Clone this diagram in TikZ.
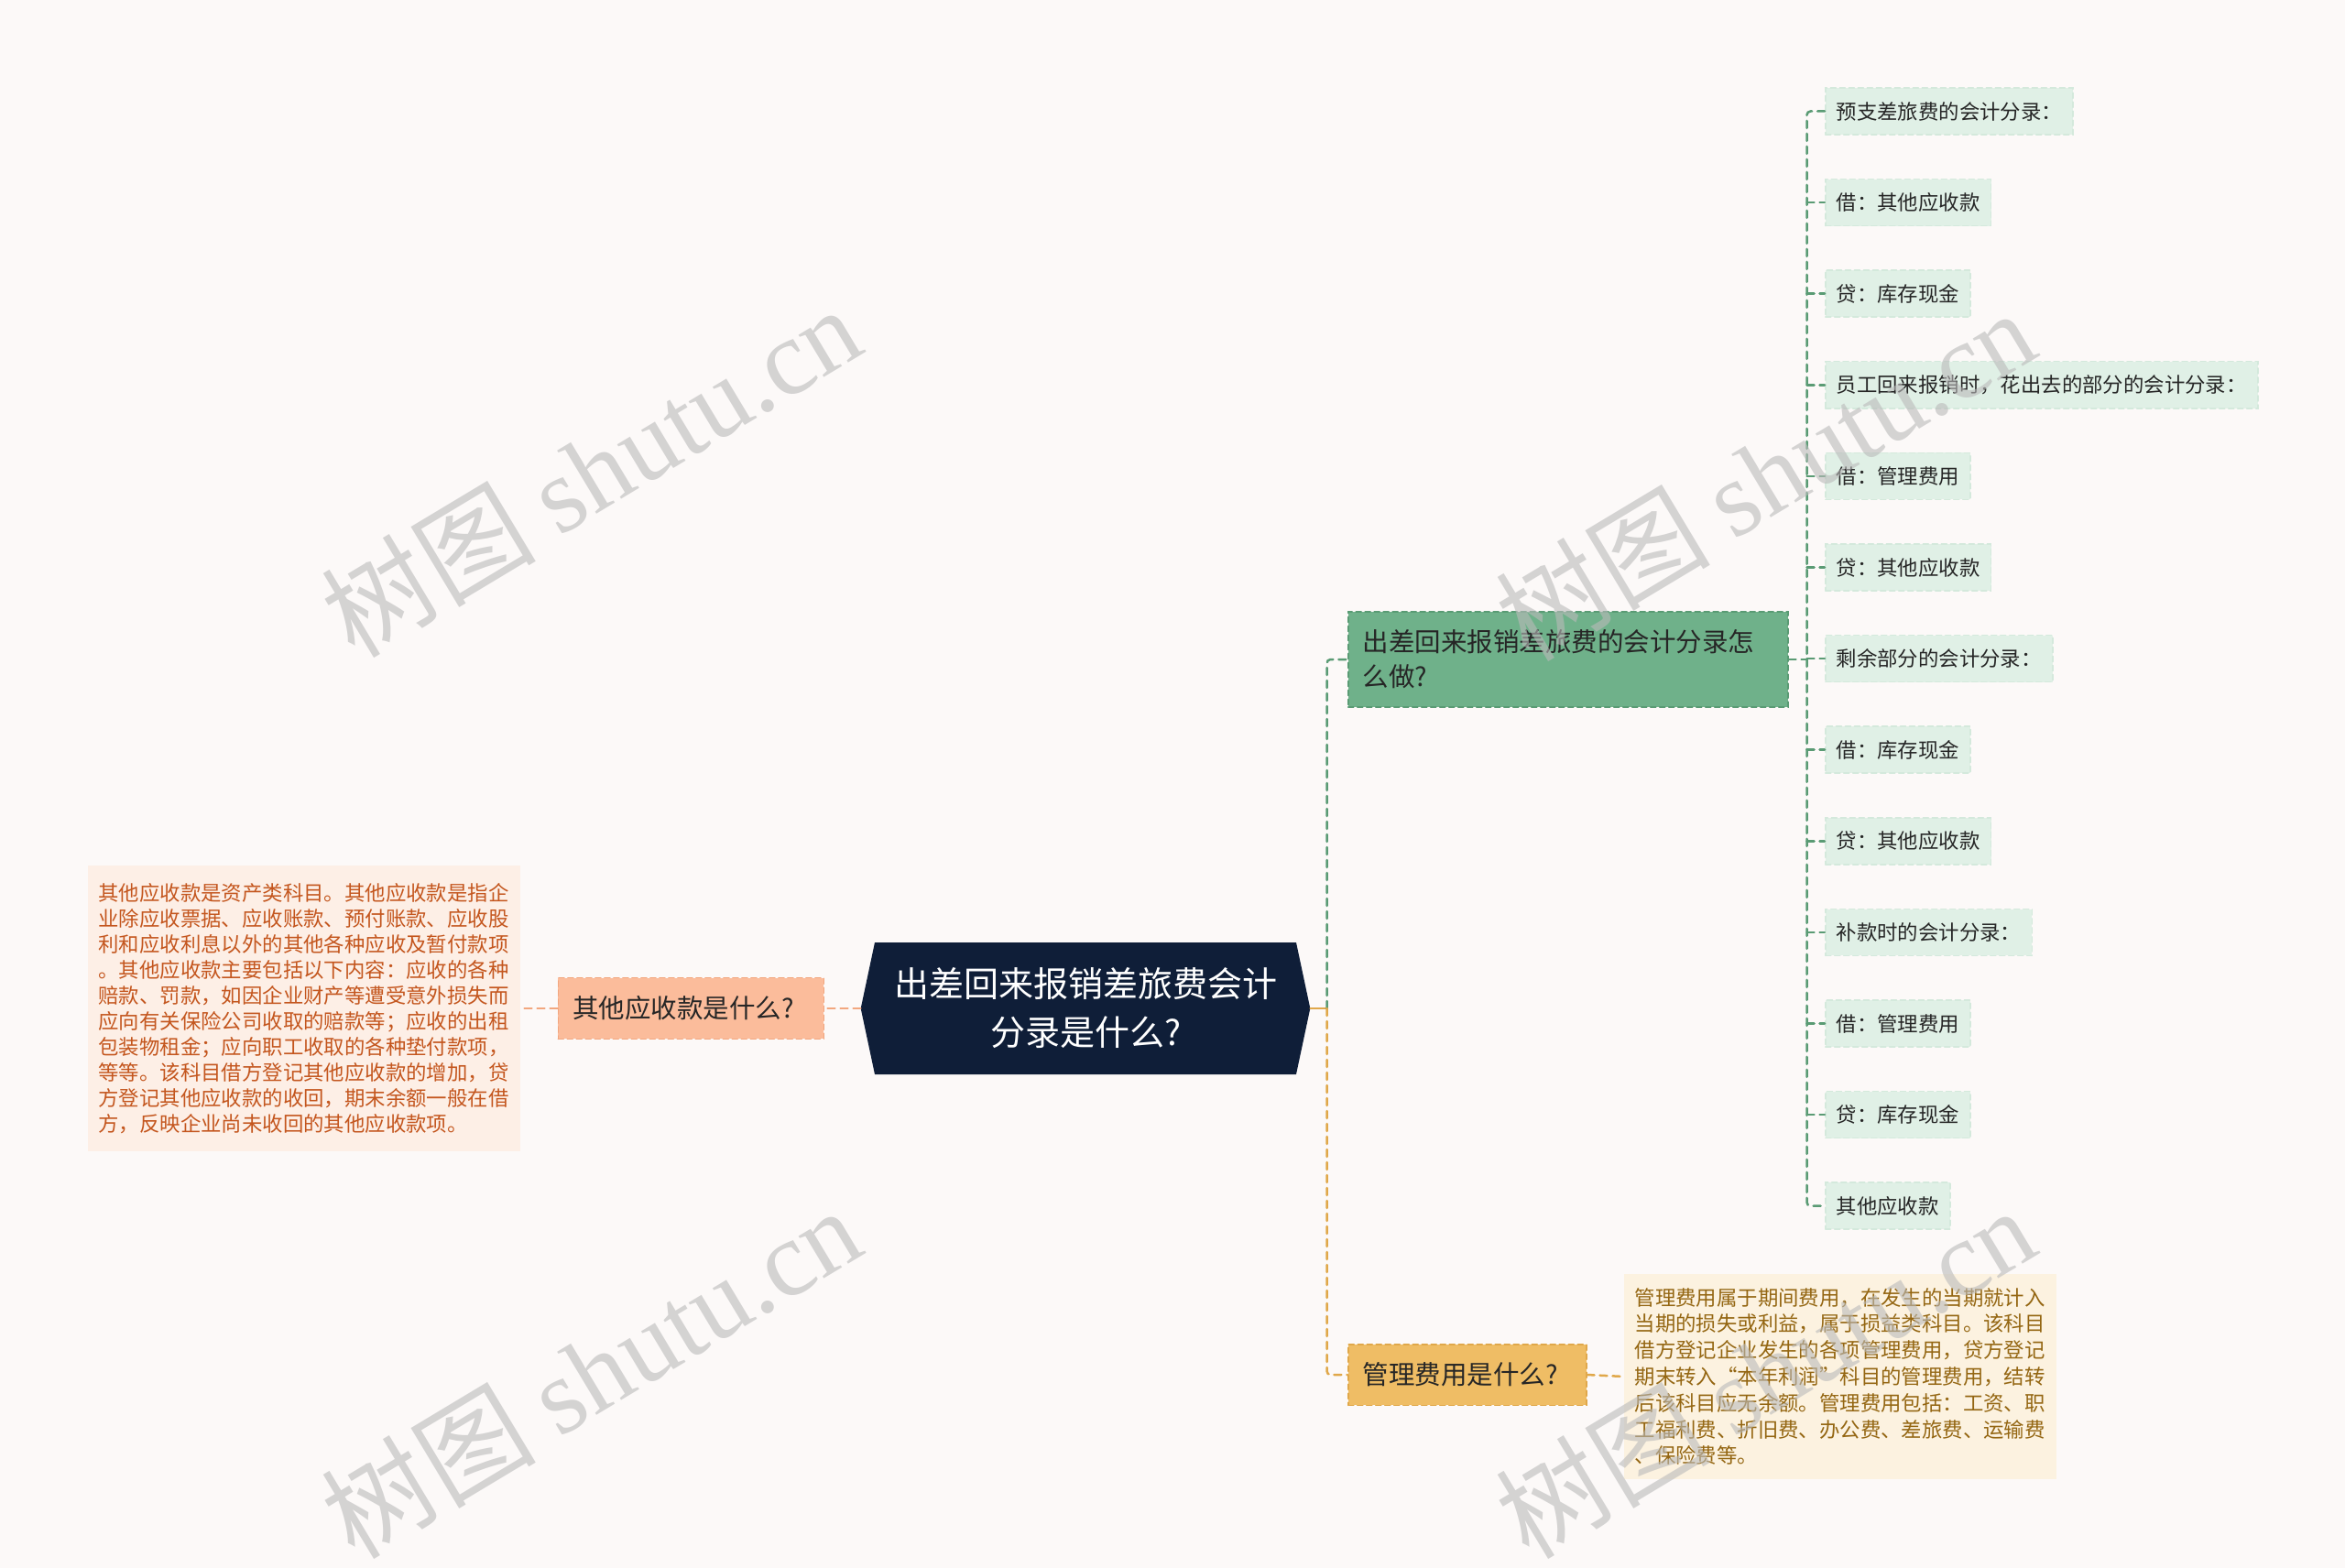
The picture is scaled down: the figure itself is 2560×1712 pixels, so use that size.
\documentclass[tikz,border=0pt]{standalone}
\usepackage{fontspec}
\setmainfont{Noto Sans CJK SC}
\newfontfamily\wmfont{Liberation Serif}
\usepackage{tikz}
\usetikzlibrary{shapes.symbols, positioning, calc}

\definecolor{bgcol}{HTML}{FCF9F8}
\definecolor{navy}{HTML}{0F1E38}
\definecolor{gfill}{HTML}{6FB18A}
\definecolor{gedge}{HTML}{5A9B74}
\definecolor{leaffill}{HTML}{E0F0E6}
\definecolor{leafedge}{HTML}{D4E9DC}
\definecolor{ofill}{HTML}{FBBC9B}
\definecolor{oedge}{HTML}{F2A77F}
\definecolor{otext}{HTML}{C4561E}
\definecolor{odfill}{HTML}{FDEFE6}
\definecolor{yfill}{HTML}{EFBD65}
\definecolor{yedge}{HTML}{E0A84A}
\definecolor{ytext}{HTML}{946612}
\definecolor{ydfill}{HTML}{FCF2E0}

\begin{document}
\begin{tikzpicture}[x=1pt,y=-1pt,cap=round,
    root/.style={signal, signal to=west and east, signal pointer angle=156,
      fill=navy, text=white, minimum height=144, text width=418, align=center,
      inner xsep=21, font=\fontsize{38}{53}\selectfont},
    topic/.style 2 args={anchor=west, fill=#1, draw=#2, dash pattern=on 6pt off 4pt,
      line width=1.5pt, text=black!85, inner xsep=16, inner ysep=20, align=left,
      font=\fontsize{28.5}{38}\selectfont},
    leaf/.style={anchor=west, fill=leaffill, draw=leafedge, dash pattern=on 6pt off 4pt,
      line width=1.5pt, text=black!85, inner xsep=12, inner ysep=15,
      font=\fontsize{22.4}{28}\selectfont},
    detail/.style={fill=#1, inner xsep=11.5, text width=449, align=left},
    gline/.style={draw=gedge, line width=2.5pt, dash pattern=on 8pt off 6pt},
    yline/.style={draw=yedge, line width=2.5pt, dash pattern=on 8pt off 6pt},
    oline/.style={draw=oedge, line width=2.5pt, dash pattern=on 8pt off 6pt},
    wm/.style={rotate=31, text=black!27, text opacity=0.6, font=\fontsize{117}{117}\selectfont}]

    % background and page size
    \path[use as bounding box, fill=bgcol] (0,0) rectangle (2560,1712);

    % the centre
    \node[root] (root) at (1185,1101) {出差回来报销差旅费会计\\分录是什么?};

    % the three topics
    \node[topic={gfill}{gedge}, text width=448] (g) at (1471,720) {出差回来报销差旅费的会计分录怎\\么做?};
    \node[topic={ofill}{oedge}, text width=258, anchor=east] (o) at (900,1101) {其他应收款是什么?};
    \node[topic={yfill}{yedge}, text width=228] (y) at (1471,1501) {管理费用是什么?};

    % the two long texts
    \node[detail=odfill, inner ysep=19, text=otext, font=\fontsize{22.4}{28}\selectfont] (od) at (332,1101) {%
      其他应收款是资产类科目。其他应收款是指企\\
      业除应收票据、应收账款、预付账款、应收股\\
      利和应收利息以外的其他各种应收及暂付款项\\
      。其他应收款主要包括以下内容：应收的各种\\
      赔款、罚款，如因企业财产等遭受意外损失而\\
      应向有关保险公司收取的赔款等；应收的出租\\
      包装物租金；应向职工收取的各种垫付款项，\\
      等等。该科目借方登记其他应收款的增加，贷\\
      方登记其他应收款的收回，期末余额一般在借\\
      方，反映企业尚未收回的其他应收款项。};
    \node[detail=ydfill, inner ysep=15, text=ytext, anchor=west, font=\fontsize{22.4}{28.8}\selectfont] (yd) at (1773,1503) {%
      管理费用属于期间费用，在发生的当期就计入\\
      当期的损失或利益，属于损益类科目。该科目\\
      借方登记企业发生的各项管理费用，贷方登记\\
      期末转入“本年利润”科目的管理费用，结转\\
      后该科目应无余额。管理费用包括：工资、职\\
      工福利费、折旧费、办公费、差旅费、运输费\\
      、保险费等。};

    % the entries on the right
    \foreach \i/\txt in {
      1/预支差旅费的会计分录：,
      2/借：其他应收款,
      3/贷：库存现金,
      4/员工回来报销时，花出去的部分的会计分录：,
      5/借：管理费用,
      6/贷：其他应收款,
      7/剩余部分的会计分录：,
      8/借：库存现金,
      9/贷：其他应收款,
      10/补款时的会计分录：,
      11/借：管理费用,
      12/贷：库存现金,
      13/其他应收款}
    \node[leaf] (l\i) at (1992,{121.5+99.6*(\i-1)}) {\txt};

    % connectors
    \coordinate (ms) at ([xshift=18]root.east);
    \draw[draw=yedge, line width=2.5pt] (root.east) -- (ms);
    \draw[gline, rounded corners=4] (ms) |- (g.west);
    \draw[yline, rounded corners=4] (ms) |- (y.west);
    \draw[oline] (root.west) -- (o.east);
    \draw[oline] (o.west) -- (od.east);
    \draw[yline] (y.east) -- (yd.west);

    \coordinate (gs) at ([xshift=20]g.east);
    \draw[gline] (g.east) -- (gs);
    \draw[gline, rounded corners=4] (l1.west) -| (gs) |- (l13.west);
    \foreach \i in {2,...,12}
      \draw[gline] (gs |- l\i.west) -- (l\i.west);

    % watermarks
    \node[wm] (wm1) at (645,514) {树图 {\wmfont shutu.cn}};
    \node[wm] (wm2) at (645,1498) {树图 {\wmfont shutu.cn}};
    \node[wm] (wm3) at (1927,518) {树图 {\wmfont shutu.cn}};
    \node[wm] (wm4) at (1927,1498) {树图 {\wmfont shutu.cn}};
\end{tikzpicture}
\end{document}
